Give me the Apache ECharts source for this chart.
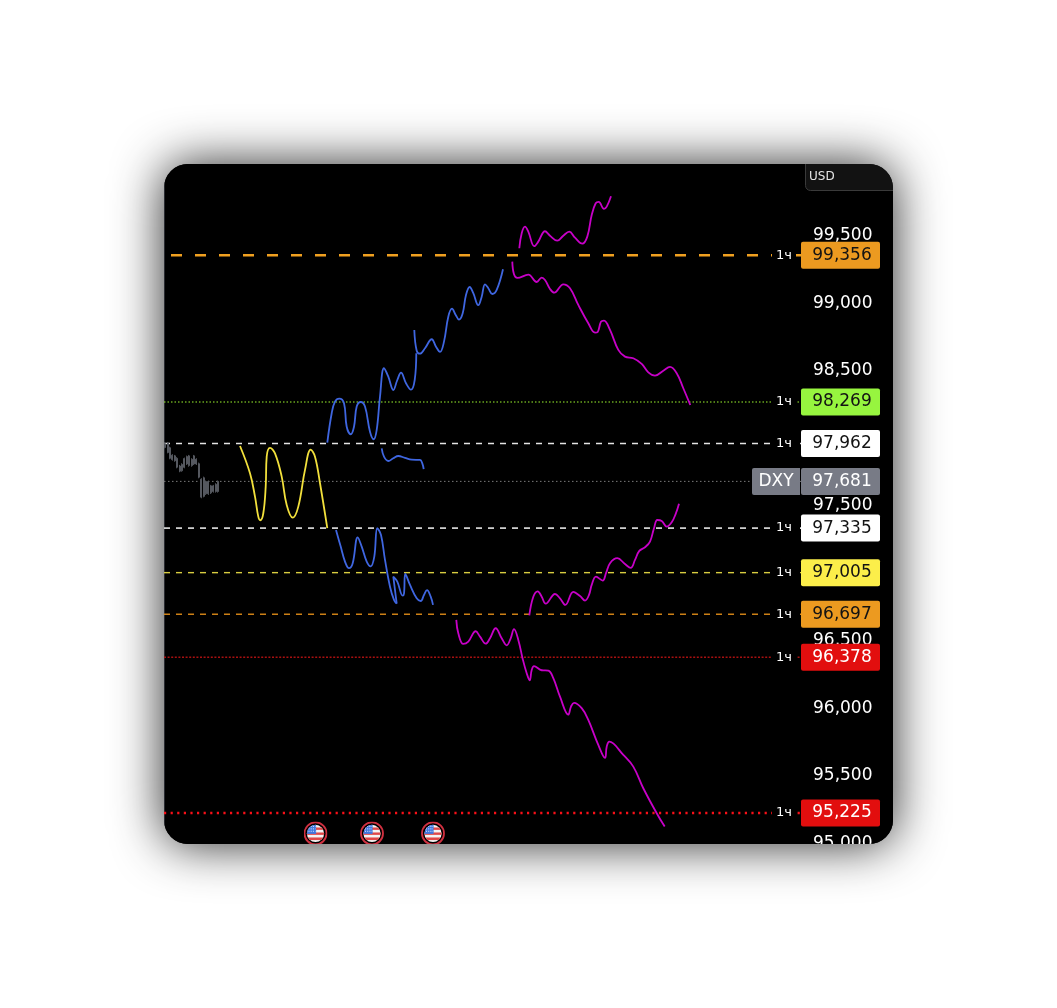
<!DOCTYPE html>
<html>
<head>
<meta charset="UTF-8">
<title>DXY</title>
<script src="https://cdn.jsdelivr.net/npm/echarts@6/dist/echarts.min.js"></script>
<style>
* { margin: 0; padding: 0; }
html, body { background: #fff; }
#card {
	position: absolute; left: 164px; top: 164px; width: 729px; height: 680px;
	border-radius: 24px; overflow: hidden; background: #000;
	box-shadow: 0 0 50px rgba(0, 0, 0, .85);
}
#app { width: 729px; height: 680px; }
</style>
</head>
<body>
<div id="card"><div id="app"></div></div>
<script>
var tickValues = [95000, 95500, 96000, 96500, 97000, 97500, 98000, 98500, 99000, 99500];
var levels = [99356, 98269, 97962, 97681, 97335, 97005, 96697, 96378, 95225];
var timeframeLabel = '1ч';
var symbolName = 'DXY';
var unitName = 'USD';
var lastPrice = 97681;

// open, close, low, high
var candles = [
	[97960, 97932, 97926, 97968], [97965, 97895, 97889, 97973], [97930, 97852, 97845, 97938],
	[97875, 97842, 97835, 97882], [97870, 97834, 97827, 97877], [97852, 97786, 97778, 97860],
	[97795, 97757, 97749, 97803], [97760, 97807, 97753, 97815], [97785, 97850, 97778, 97857],
	[97810, 97865, 97803, 97872], [97870, 97798, 97790, 97877], [97798, 97845, 97790, 97852],
	[97810, 97870, 97803, 97877], [97845, 97810, 97803, 97852], [97812, 97712, 97704, 97820],
	[97697, 97564, 97556, 97704], [97570, 97708, 97563, 97716], [97680, 97589, 97581, 97687],
	[97589, 97680, 97581, 97687], [97648, 97596, 97588, 97655], [97606, 97648, 97598, 97655],
	[97606, 97660, 97598, 97667], [97606, 97681, 97598, 97687]
];

var yellowPath = [[76, 97943], [86, 97741], [91, 97568], [94.3, 97420], [96.3, 97393], [99.3, 97445], [101.7, 97642], [102.7, 97864], [106, 97929], [111, 97889], [117.7, 97716], [122.7, 97506], [128.7, 97412], [134.3, 97494], [141, 97766], [146.7, 97916], [151, 97864], [156, 97667], [163.3, 97334]];

var blueUpA = [[163.3, 97968], [167.7, 98186], [171, 98272], [175.3, 98294], [180, 98260], [182.7, 98086], [186.7, 98030], [190, 98086], [192.7, 98235], [196.7, 98269], [201, 98235], [206, 98049], [209.7, 97993], [212.7, 98062], [216, 98309], [220, 98519], [224.3, 98457], [229.3, 98358], [233.3, 98432], [237, 98486], [242, 98408], [247, 98360], [250.7, 98432], [252.3, 98630]];
var blueUpB = [[250.3, 98803], [252.7, 98649], [256, 98627], [261, 98667], [267.7, 98734], [272, 98679], [276, 98640], [280, 98716], [284.3, 98901], [288, 98960], [291.7, 98914], [295, 98879], [298.7, 98926], [302, 99062], [305.7, 99121], [309.3, 99075], [314.3, 98986], [317.7, 99049], [321, 99141], [324.3, 99112], [328.3, 99069], [332.7, 99099], [339, 99252]];
var blueMid = [[217.7, 97926], [220, 97864], [224.3, 97832], [229.3, 97852], [234.3, 97869], [241, 97855], [247.7, 97842], [256, 97840], [258.3, 97815], [259.7, 97771]];
var blueDownA = [[172, 97321], [176.7, 97198], [181, 97087], [185, 97038], [188.7, 97075], [193.7, 97267], [197.7, 97198], [202.7, 97087], [206.7, 97052], [210.3, 97124], [213.3, 97334], [217, 97284], [221, 97099], [226, 96901], [230, 96803], [232.7, 96775]];
var blueDownB = [[232.7, 96775], [229.3, 96975], [233.3, 96938], [238.7, 96835], [240, 96850], [241.3, 96995], [246, 96914], [252.7, 96815], [256.7, 96795], [260, 96840], [263, 96875], [266.7, 96827], [269, 96766]];

var magentaTopUp = [[355.3, 99408], [357.7, 99519], [361, 99568], [364.3, 99531], [370.3, 99423], [374.3, 99457], [381, 99534], [386, 99501], [393.3, 99464], [399.3, 99501], [405.3, 99531], [411, 99486], [418.3, 99442], [423.3, 99494], [427.7, 99654], [431.7, 99741], [434.7, 99751], [440, 99699], [442.7, 99716], [447, 99793]];
var magentaTopDown = [[348.3, 99309], [350, 99215], [353.3, 99188], [364.3, 99212], [372.7, 99158], [377.7, 99190], [381, 99173], [386, 99106], [390.3, 99079], [399.3, 99141], [406, 99112], [414.3, 98988], [424.3, 98852], [431, 98783], [433.7, 98788], [437, 98864], [440, 98872], [446, 98803], [454.3, 98655], [461, 98605], [469.3, 98593], [477.7, 98551], [484.3, 98489], [491, 98464], [499.3, 98501], [506, 98529], [512.7, 98482], [519.3, 98371], [526.3, 98247]];
var magentaLowUp = [[365.3, 96689], [369.3, 96827], [373.7, 96867], [377.7, 96827], [381.7, 96775], [391, 96847], [396, 96815], [401.3, 96766], [409.3, 96862], [416, 96832], [421, 96798], [425, 96840], [427.7, 96914], [432, 96975], [438.7, 96946], [442, 97001], [446, 97075], [453.3, 97112], [461, 97069], [466.7, 97040], [471, 97099], [475.3, 97166], [481, 97193], [486, 97235], [490, 97334], [493.3, 97395], [497.7, 97388], [502.7, 97346], [507.7, 97378], [511.7, 97440], [515, 97516]];
var magentaLowDown = [[292.3, 96655], [294.3, 96556], [299.3, 96477], [304.3, 96494], [311.7, 96571], [316, 96531], [321.7, 96479], [326, 96519], [331.7, 96593], [337.7, 96519], [342.7, 96467], [346.7, 96519], [350, 96586], [354.3, 96507], [358.7, 96366], [362.7, 96260], [365.7, 96208], [367.7, 96284], [370, 96312], [377.7, 96282], [384.3, 96279], [389.3, 96223], [396, 96086], [404.3, 95953], [407, 96013], [410, 96040], [417.7, 96001], [424.3, 95914], [434.3, 95729], [441, 95633], [442.7, 95716], [445.3, 95753], [459.3, 95655], [469.3, 95568], [479.3, 95408], [492.7, 95223], [500.7, 95124]];

var eventPoints = [[151.5, 95073], [208, 95073], [269, 95073]];

var timeMax = 637;
var priceMin = 94995;
var priceMax = 100032;
var candleSlots = [];
for (var s = 0; s < 265; s++) candleSlots.push(s);

var levelStyles = [
	{ color: '#f0a020', width: 2.4, dash: [11, 13], offset: 17, tag: '#ec9a20', text: '#131313' },
	{ color: '#9cf52e', width: 1.2, dash: [1.5, 2], offset: 0, tag: '#97f53f', text: '#131313' },
	{ color: '#e4e4e4', width: 1.6, dash: [6, 6], offset: 0, tag: '#ffffff', text: '#131313' },
	{ color: '#7a7a7a', width: 1, dash: [1.5, 2.5], offset: 0, tag: '#787b86', text: '#ffffff' },
	{ color: '#e4e4e4', width: 1.6, dash: [6, 6], offset: 0, tag: '#ffffff', text: '#131313' },
	{ color: '#d8cc40', width: 1.4, dash: [6, 6], offset: 0, tag: '#fcee4a', text: '#131313' },
	{ color: '#dc8a18', width: 1.4, dash: [6, 6], offset: 0, tag: '#ec9a20', text: '#131313' },
	{ color: '#a81010', width: 1.5, dash: [2, 1.6], offset: 0, tag: '#e20e0e', text: '#ffffff' },
	{ color: '#f81018', width: 2.4, dash: [2.2, 4.4], offset: 0, tag: '#e20e0e', text: '#ffffff' }
];

var flagSvg = '<svg xmlns="http://www.w3.org/2000/svg" width="24" height="24" viewBox="0 0 24 24">' +
	'<clipPath id="c"><circle cx="12" cy="12" r="8.6"/></clipPath>' +
	'<circle cx="12" cy="12" r="11" fill="#000" stroke="#d03040" stroke-width="1.8"/>' +
	'<g clip-path="url(#c)"><rect width="24" height="24" fill="#f4f4f4"/>' +
	'<rect x="3" y="6" width="18" height="2.4" fill="#e04848"/>' +
	'<rect x="3" y="11" width="18" height="2.4" fill="#e04848"/>' +
	'<rect x="3" y="16" width="18" height="2.6" fill="#e04848"/>' +
	'<rect x="3" y="3" width="9.6" height="9.4" fill="#3f78e0"/>' +
	'<path d="M5 5h7M5 7.4h7M5 9.8h7" stroke="#dfe8ff" stroke-width="1" stroke-dasharray="1 1.2"/>' +
	'</g></svg>';

function formatPrice(v) {
	var txt = String(v);
	return txt.slice(0, txt.length - 3) + ',' + txt.slice(txt.length - 3);
}

function pathSeries(data, color) {
	return {
		type: 'line', data: data, smooth: 0.4, symbol: 'none', z: 4,
		lineStyle: { color: color, width: 1.8 }
	};
}

var series = [];

// level lines
levels.forEach(function (level, i) {
	var st = levelStyles[i];
	series.push({
		type: 'line', data: [[0, level], [timeMax, level]], symbol: 'none', z: 3,
		lineStyle: { color: st.color, width: st.width, type: st.dash, dashOffset: st.offset }
	});
});

series.push({
	type: 'candlestick', xAxisIndex: 1, data: candles, barWidth: 1.5, z: 3,
	itemStyle: { color: '#55585f', color0: '#55585f', borderColor: '#55585f', borderColor0: '#55585f', borderWidth: 1 }
});

series.push(pathSeries(yellowPath, '#f2e03c'));
[blueUpA, blueUpB, blueMid, blueDownA, blueDownB].forEach(function (d) {
	series.push(pathSeries(d, '#3f66e0'));
});
[magentaTopUp, magentaTopDown, magentaLowUp, magentaLowDown].forEach(function (d) {
	series.push(pathSeries(d, '#c800c8'));
});

// timeframe captions on the lines
series.push({
	type: 'scatter', symbolSize: 1, z: 6, clip: false,
	itemStyle: { color: 'transparent', opacity: 1 },
	data: levels.filter(function (l) { return l !== lastPrice; }).map(function (l) { return [620, l]; }),
	label: {
		show: true, position: 'inside', formatter: timeframeLabel,
		color: '#ffffff', fontSize: 13, fontFamily: 'DejaVu Sans',
		backgroundColor: '#000', padding: [1, 4]
	}
});

// price tags
levels.forEach(function (level, i) {
	var st = levelStyles[i];
	series.push({
		type: 'scatter', symbolSize: 1, z: 8, clip: false,
		itemStyle: { color: 'transparent', opacity: 1 },
		data: [[timeMax, level]],
		label: {
			show: true, position: 'right', distance: 0, offset: [39, 0],
			formatter: formatPrice(level), align: 'center', verticalAlign: 'middle',
			width: 74, height: 27, lineHeight: 27, borderRadius: 2, padding: [0, 1, 0, 4],
			backgroundColor: st.tag, color: st.text,
			fontSize: 17, fontFamily: 'DejaVu Sans'
		}
	});
});

series.push({
	type: 'scatter', symbolSize: 1, z: 8, clip: false,
	itemStyle: { color: 'transparent', opacity: 1 },
	data: [[timeMax, lastPrice]],
	label: {
		show: true, position: 'left', distance: 0, offset: [-24.5, 0],
		formatter: symbolName, align: 'center', verticalAlign: 'middle',
		width: 48, height: 27, lineHeight: 27, borderRadius: [2, 0, 0, 2],
		backgroundColor: '#787b86', color: '#ffffff',
		fontSize: 17, fontFamily: 'DejaVu Sans'
	}
});

series.push({
	type: 'scatter', data: eventPoints, z: 7, clip: false, symbolSize: 24,
	itemStyle: { opacity: 1 },
	symbol: 'image://data:image/svg+xml;charset=utf-8,' + encodeURIComponent(flagSvg)
});

var option = {
	animation: false,
	backgroundColor: '#000',
	grid: { left: 0, right: 92, top: 0, bottom: 0, outerBoundsMode: 'none' },
	xAxis: [
		{ type: 'value', min: 0, max: timeMax, show: false },
		{ type: 'category', data: candleSlots, show: false }
	],
	yAxis: {
		type: 'value', position: 'right', min: priceMin, max: priceMax,
		splitLine: { show: false },
		axisTick: { show: false },
		axisLine: { show: true, lineStyle: { color: '#2a2c32', width: 1 } },
		axisLabel: {
			customValues: tickValues, color: '#ffffff', fontSize: 17,
			fontFamily: 'DejaVu Sans', margin: 12, showMinLabel: true, showMaxLabel: true,
			formatter: function (v) { return formatPrice(v); }
		}
	},
	graphic: [
		{
			type: 'rect', left: 641, top: -1, z: 10,
			shape: { width: 100, height: 27, r: [0, 0, 0, 5] },
			style: { fill: '#121212', stroke: '#3a3a3a', lineWidth: 1 }
		},
		{
			type: 'text', left: 645, top: 7, z: 11,
			style: { text: unitName, fill: '#e6e6e6', font: '12px "DejaVu Sans"' }
		}
	],
	series: series
};

var myChart = echarts.init(document.getElementById('app'));
myChart.setOption(option);
</script>
</body>
</html>
